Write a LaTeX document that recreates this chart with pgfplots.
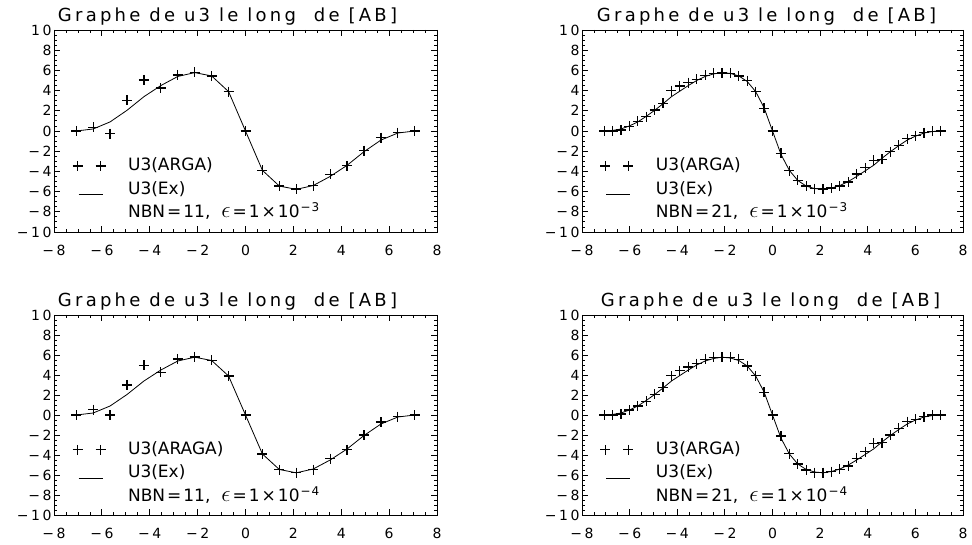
\documentclass[border=0pt]{standalone}
\usepackage{fontspec}
\setmainfont{DejaVu Sans}
\newfontfamily\titlefont[LetterSpace=18]{DejaVu Sans}
\newfontfamily\tickfont[LetterSpace=18]{DejaVu Sans}
\usepackage{graphicx}
\usepackage{pgfplots}
\usepackage{pgfplotstable}
\pgfplotsset{compat=1.18}

% exact solution, 41 nodes
\pgfplotstableread{
x y
-7.0711 0
-6.7175 0.05
-6.3640 0.2
-6.0104 0.5
-5.6569 0.9
-5.3033 1.45
-4.9497 2.05
-4.5962 2.7
-4.2426 3.4
-3.8891 3.95
-3.5355 4.5
-3.1820 5.0
-2.8284 5.4
-2.4749 5.65
-2.1213 5.78
-1.7678 5.7
-1.4142 5.45
-1.0607 4.9
-0.7071 3.9
-0.3536 2.3
0 0
0.3536 -2.3
0.7071 -3.9
1.0607 -4.9
1.4142 -5.45
1.7678 -5.7
2.1213 -5.78
2.4749 -5.65
2.8284 -5.4
3.1820 -5.0
3.5355 -4.5
3.8891 -3.95
4.2426 -3.4
4.5962 -2.7
4.9497 -2.05
5.3033 -1.45
5.6569 -0.9
6.0104 -0.5
6.3640 -0.2
6.7175 -0.05
7.0711 0
}\exactB

% exact solution, 21 nodes
\pgfplotstableread{
x y
-7.0711 0
-6.3640 0.2
-5.6569 0.9
-4.9497 2.05
-4.2426 3.4
-3.5355 4.5
-2.8284 5.4
-2.1213 5.78
-1.4142 5.45
-0.7071 3.9
0 0
0.7071 -3.9
1.4142 -5.45
2.1213 -5.78
2.8284 -5.4
3.5355 -4.5
4.2426 -3.4
4.9497 -2.05
5.6569 -0.9
6.3640 -0.2
7.0711 0
}\exactA

% ARGA, NBN=11, eps=1e-3
\pgfplotstableread{
x y
-7.0711 0
-6.3640 0.35
-5.6569 -0.25
-4.9497 3.05
-4.2426 5.05
-3.5355 4.25
-2.8284 5.55
-2.1213 5.8
-1.4142 5.45
-0.7071 3.9
0 0
0.7071 -3.9
1.4142 -5.45
2.1213 -5.75
2.8284 -5.4
3.5355 -4.3
4.2426 -3.45
4.9497 -1.95
5.6569 -0.65
6.3640 -0.15
7.0711 0
}\argaA

% ARGA, NBN=21, eps=1e-3
\pgfplotstableread{
x y
-7.0711 0
-6.7175 0
-6.3640 0.1
-6.0104 0.45
-5.6569 0.95
-5.3033 1.42
-4.9497 2.08
-4.5962 2.74
-4.2426 3.99
-3.8891 4.45
-3.5355 4.78
-3.1820 5.1
-2.8284 5.5
-2.4749 5.7
-2.1213 5.75
-1.7678 5.7
-1.4142 5.45
-1.0607 4.98
-0.7071 3.9
-0.3536 2.25
0 0
0.3536 -2.2
0.7071 -3.95
1.0607 -4.9
1.4142 -5.45
1.7678 -5.7
2.1213 -5.75
2.4749 -5.65
2.8284 -5.45
3.1820 -5.05
3.5355 -4.25
3.8891 -3.65
4.2426 -2.9
4.5962 -2.8
4.9497 -2.05
5.3033 -1.4
5.6569 -0.75
6.0104 -0.45
6.3640 -0.17
6.7175 -0.04
7.0711 0
}\argaB

% ARAGA, NBN=11, eps=1e-4
\pgfplotstableread{
x y
-7.0711 0
-6.3640 0.55
-5.6569 0.0
-4.9497 3.0
-4.2426 4.95
-3.5355 4.25
-2.8284 5.6
-2.1213 5.8
-1.4142 5.45
-0.7071 3.9
0 0
0.7071 -3.9
1.4142 -5.45
2.1213 -5.75
2.8284 -5.45
3.5355 -4.35
4.2426 -3.45
4.9497 -2.0
5.6569 -0.7
6.3640 -0.15
7.0711 0
}\argaC

% ARGA, NBN=21, eps=1e-4
\pgfplotstableread{
x y
-7.0711 0
-6.7175 0
-6.3640 0.1
-6.0104 0.5
-5.6569 0.9
-5.3033 1.37
-4.9497 2.05
-4.5962 2.77
-4.2426 3.92
-3.8891 4.41
-3.5355 4.8
-3.1820 5.13
-2.8284 5.55
-2.4749 5.75
-2.1213 5.78
-1.7678 5.75
-1.4142 5.55
-1.0607 4.9
-0.7071 3.92
-0.3536 2.28
0 0
0.3536 -2.1
0.7071 -3.85
1.0607 -4.9
1.4142 -5.5
1.7678 -5.75
2.1213 -5.77
2.4749 -5.67
2.8284 -5.43
3.1820 -5.1
3.5355 -4.33
3.8891 -3.67
4.2426 -2.83
4.5962 -2.77
4.9497 -2.0
5.3033 -1.33
5.6569 -0.67
6.0104 -0.43
6.3640 -0.17
6.7175 0
7.0711 0
}\argaD

\newcommand{\epsline}[2]{NBN\kern2pt=\kern2pt#1,\kern11pt\scalebox{1.35}{$\epsilon$}\kern2pt=\kern2pt1\kern2pt×\kern2pt10\kern1pt\raisebox{6pt}{\fontsize{12}{12}\selectfont −\kern1pt#2}}

\pgfplotsset{
  panel/.style={
    scale only axis, anchor=south west,
    xmin=-8, xmax=8, ymin=-10, ymax=10,
    xtick={-8,-6,...,8}, ytick={-10,-8,...,10},
    xticklabels={−8,−6,−4,−2,0,2,4,6,8},
    yticklabels={−10,−8,−6,−4,−2,0,2,4,6,8,10},
    minor tick num=3,
    tick align=inside, tick pos=both,
    major tick length=6pt, minor tick length=3pt,
    every tick/.style={black, line width=0.8pt},
    axis line style={line width=0.9pt},
    ticklabel style={font=\tickfont\fontsize{14}{14}\selectfont},
    xticklabel style={yshift=-10pt},
    yticklabel style={xshift=1pt},
    title style={at={(0.5,1)}, anchor=base, yshift=2pt, inner sep=0pt,
      font=\titlefont\fontsize{18}{18}\selectfont},
    legend style={at={(0.048,0.367)}, anchor=north west, draw=none, fill=none,
      inner sep=0pt, row sep=7.5pt, column sep=22.5pt,
      font=\fontsize{17}{17}\selectfont,
      nodes={inner sep=0pt, text height=12.5pt, text depth=3.5pt}},
    legend cell align=left,
  },
  argastyle/.style={only marks, mark=+, mark size=5pt, line width=1.2pt, black,
    legend image code/.code={\draw[##1] plot[only marks] coordinates {(0pt,0pt) (23pt,0pt)};}},
  exstyle/.style={black, line width=0.8pt, mark=none,
    legend image code/.code={\draw[##1] (1pt,-5pt) -- (25pt,-5pt);}},
}

\begin{document}
\begin{tikzpicture}
\useasboundingbox (0pt,0pt) rectangle (972pt,544pt);

\begin{axis}[panel, at={(54pt,312pt)}, width=383pt, height=202pt,
  title={Graphe de u3 le long\ \ de [AB]}, title style={xshift=-18pt}]
\addplot[argastyle] table {\argaA};
\addlegendentry{U3(ARGA)}
\addplot[exstyle] table {\exactA};
\addlegendentry{U3(Ex)}
\addlegendimage{empty legend}
\addlegendentry{\epsline{11}{3}}
\end{axis}

\begin{axis}[panel, at={(582pt,312pt)}, width=381pt, height=202pt,
  title={Graphe de u3 le long\ \ de [AB]}, title style={xshift=-6pt}]
\addplot[argastyle] table {\argaB};
\addlegendentry{U3(ARGA)}
\addplot[exstyle] table {\exactB};
\addlegendentry{U3(Ex)}
\addlegendimage{empty legend}
\addlegendentry{\epsline{21}{3}}
\end{axis}

\begin{axis}[panel, at={(54pt,29pt)}, width=383pt, height=200pt,
  title={Graphe de u3 le long\ \ de [AB]}, title style={xshift=-18pt}]
\addplot[argastyle] table {\argaC};
\addlegendentry{U3(ARAGA)}
\addplot[exstyle] table {\exactA};
\addlegendentry{U3(Ex)}
\addlegendimage{empty legend}
\addlegendentry{\epsline{11}{4}}
\end{axis}

\begin{axis}[panel, at={(582pt,29pt)}, width=381pt, height=200pt,
  title={Graphe de u3 le long\ \ de [AB]}, title style={xshift=-2pt}]
\addplot[argastyle] table {\argaD};
\addlegendentry{U3(ARGA)}
\addplot[exstyle] table {\exactB};
\addlegendentry{U3(Ex)}
\addlegendimage{empty legend}
\addlegendentry{\epsline{21}{4}}
\end{axis}
\end{tikzpicture}
\end{document}
